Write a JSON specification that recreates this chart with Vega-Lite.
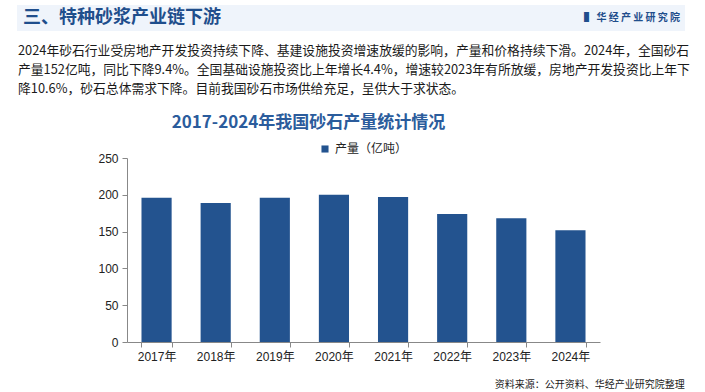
{
  "$schema": "https://vega.github.io/schema/vega-lite/v6.json",
  "background": "white",
  "padding": {"left": 17, "top": 5, "right": 5, "bottom": 2},
  "autosize": {"type": "pad"},
  "config": {
    "font": "Noto Sans CJK SC",
    "view": {"stroke": null},
    "axis": {"grid": false},
    "legend": {"layout": {"top": {"anchor": "middle"}}}
  },
  "spacing": 14,
  "resolve": {"scale": {"color": "independent"}, "legend": {"color": "independent"}},
  "title": {
    "text": "资料来源：公开资料、华经产业研究院整理",
    "orient": "bottom",
    "anchor": "end",
    "fontSize": 10,
    "fontWeight": "normal",
    "color": "#222222",
    "dx": -5,
    "offset": 18
  },
  "vconcat": [
    {
      "width": 558,
      "height": 26,
      "data": {"values": [{"header": "三、特种砂浆产业链下游", "logo": "▌ 华 经 产 业 研 究 院"}]},
      "encoding": {
        "x": {"datum": 0, "type": "quantitative", "scale": {"domain": [0, 1], "range": [-110, 558]}, "axis": null}
      },
      "layer": [
        {
          "mark": {"type": "rect", "color": "#eff4fb"},
          "encoding": {"x2": {"datum": 1}}
        },
        {
          "mark": {"type": "text", "align": "left", "baseline": "middle", "dx": 6, "fontSize": 18, "fontWeight": "bold", "color": "#1f4e8c"},
          "encoding": {"text": {"field": "header"}}
        },
        {
          "mark": {"type": "text", "align": "right", "baseline": "middle", "dx": -5, "fontSize": 10, "fontWeight": "bold", "color": "#1f4e8c"},
          "encoding": {
            "text": {"field": "logo"},
            "x": {"datum": 1, "type": "quantitative"}
          }
        }
      ]
    },
    {
      "title": {
        "text": [
          "2024年砂石行业受房地产开发投资持续下降、基建设施投资增速放缓的影响，产量和价格持续下滑。2024年，全国砂石",
          "产量152亿吨，同比下降9.4%。全国基础设施投资比上年增长4.4%，增速较2023年有所放缓，房地产开发投资比上年下",
          "降10.6%，砂石总体需求下降。目前我国砂石市场供给充足，呈供大于求状态。"
        ],
        "anchor": "start",
        "fontSize": 12.8,
        "fontWeight": "normal",
        "color": "#1a1a1a",
        "lineHeight": 19,
        "dx": 1,
        "offset": 18
      },
      "resolve": {"scale": {"color": "independent"}, "legend": {"color": "independent"}},
      "vconcat": [
        {
          "width": 473,
          "height": 184,
          "title": {
            "text": "2017-2024年我国砂石产量统计情况",
            "anchor": "middle",
            "frame": "bounds",
            "fontSize": 17,
            "fontWeight": "bold",
            "color": "#2b5c9c",
            "offset": 11
          },
          "data": {
            "values": [
              {"year": "2017年", "output": 196, "series": "产量（亿吨）"},
              {"year": "2018年", "output": 189, "series": "产量（亿吨）"},
              {"year": "2019年", "output": 196, "series": "产量（亿吨）"},
              {"year": "2020年", "output": 200, "series": "产量（亿吨）"},
              {"year": "2021年", "output": 197, "series": "产量（亿吨）"},
              {"year": "2022年", "output": 174, "series": "产量（亿吨）"},
              {"year": "2023年", "output": 168, "series": "产量（亿吨）"},
              {"year": "2024年", "output": 152, "series": "产量（亿吨）"}
            ]
          },
          "mark": {"type": "bar"},
          "encoding": {
            "x": {
              "field": "year",
              "type": "ordinal",
              "scale": {"paddingInner": 0.49, "paddingOuter": 0.245},
              "axis": {
                "title": null,
                "labelAngle": 0,
                "labelFont": "Liberation Sans, Noto Sans CJK SC",
                "labelFontSize": 12,
                "labelColor": "#222222",
                "labelPadding": 4,
                "tickBand": "extent",
                "tickSize": 5,
                "tickColor": "#888888",
                "domainColor": "#888888"
              }
            },
            "y": {
              "field": "output",
              "type": "quantitative",
              "scale": {"domain": [0, 250]},
              "axis": {
                "title": null,
                "values": [0, 50, 100, 150, 200, 250],
                "labelFont": "Liberation Sans",
                "labelFontSize": 12,
                "labelColor": "#222222",
                "labelPadding": 4,
                "tickSize": 5,
                "tickColor": "#888888",
                "domainColor": "#888888",
                "minExtent": 110
              }
            },
            "color": {
              "field": "series",
              "type": "nominal",
              "scale": {"range": ["#23538f"]},
              "legend": {
                "orient": "top",
                "title": null,
                "symbolType": "square",
                "symbolSize": 50,
                "labelFontSize": 12,
                "labelColor": "#222222",
                "labelExpr": "datum.label + '\u3000  '",
                "offset": 3
              }
            }
          }
        }
      ]
    }
  ]
}
